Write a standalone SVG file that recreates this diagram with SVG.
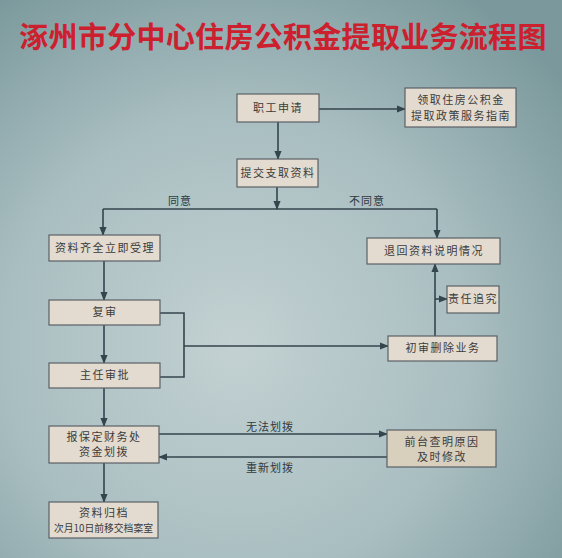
<svg xmlns="http://www.w3.org/2000/svg" width="562" height="558" viewBox="0 0 562 558">
<defs>
<radialGradient id="bg" cx="0.42" cy="0.62" r="0.75">
<stop offset="0" stop-color="#c3d1d2"/>
<stop offset="0.55" stop-color="#a9bec1"/>
<stop offset="1" stop-color="#7b999c"/>
</radialGradient>
<marker id="ah" viewBox="0 0 10 10" refX="9" refY="5" markerWidth="9" markerHeight="9" markerUnits="userSpaceOnUse" orient="auto">
<path d="M0,1 L10,5 L0,9 Z" fill="#34454d"/>
</marker>
<style>
.box{fill:#e3dbcf;stroke:#5a6066;stroke-width:1.2}
.box2{fill:#d9cfbd;stroke:#5a6066;stroke-width:1.2}
.t{font-family:"Noto Sans CJK SC","Noto Sans",sans-serif;font-size:11px;fill:#3c3c3c;text-anchor:middle;letter-spacing:1.5px}
.lbl{font-family:"Noto Sans CJK SC","Noto Sans",sans-serif;font-size:11px;fill:#2e3a40;text-anchor:middle;letter-spacing:1px}
.ln{fill:none;stroke:#34454d;stroke-width:1.6}
.ar{fill:none;stroke:#34454d;stroke-width:1.6;marker-end:url(#ah)}
</style>
</defs>
<rect width="562" height="558" fill="url(#bg)"/>
<text x="283" y="48" font-family="'Noto Sans CJK SC',sans-serif" font-size="29" font-weight="bold" fill="#cc202e" text-anchor="middle" letter-spacing="0.3">涿州市分中心住房公积金提取业务流程图</text>

<g id="connectors">
<line class="ar" x1="319" y1="109" x2="405" y2="109"/>
<line class="ar" x1="278" y1="122" x2="278" y2="159"/>
<line class="ar" x1="277" y1="187" x2="277" y2="209"/>
<polyline class="ln" points="103,209 437,209"/>
<line class="ar" x1="103" y1="209" x2="103" y2="235"/>
<line class="ar" x1="437" y1="209" x2="437" y2="238"/>
<line class="ar" x1="104" y1="261" x2="104" y2="300"/>
<line class="ar" x1="104" y1="325" x2="104" y2="363"/>
<polyline class="ln" points="160,313 184,313 184,377 160,377"/>
<line class="ar" x1="184" y1="346" x2="388" y2="346"/>
<line class="ar" x1="435" y1="336" x2="435" y2="264"/>
<line class="ar" x1="435" y1="299" x2="447" y2="299"/>
<line class="ar" x1="104" y1="388" x2="104" y2="426"/>
<line class="ar" x1="159" y1="434" x2="387" y2="434"/>
<line class="ar" x1="387" y1="457" x2="159" y2="457"/>
<line class="ar" x1="104" y1="463" x2="104" y2="502"/>
<text class="lbl" x="180" y="205">同意</text>
<text class="lbl" x="367" y="205">不同意</text>
<text class="lbl" x="270" y="431">无法划拨</text>
<text class="lbl" x="270" y="472">重新划拨</text>
</g>

<g id="n1"><rect class="box" x="237" y="94" width="82" height="28"/><text class="t" x="278" y="112">职工申请</text></g>
<g id="n2"><rect class="box" x="405" y="88" width="111" height="39"/><text class="t" x="461" y="104">领取住房公积金</text><text class="t" x="461" y="120">提取政策服务指南</text></g>
<g id="n3"><rect class="box" x="237" y="159" width="81" height="28"/><text class="t" x="278" y="177">提交支取资料</text></g>
<g id="n4"><rect class="box" x="49" y="235" width="111" height="26"/><text class="t" x="105" y="252">资料齐全立即受理</text></g>
<g id="n5"><rect class="box" x="367" y="238" width="133" height="26"/><text class="t" x="434" y="255">退回资料说明情况</text></g>
<g id="n6"><rect class="box" x="49" y="300" width="111" height="25"/><text class="t" x="105" y="316">复审</text></g>
<g id="n7"><rect class="box" x="447" y="286" width="52" height="27"/><text class="t" x="473" y="303">责任追究</text></g>
<g id="n8"><rect class="box" x="388" y="336" width="109" height="25"/><text class="t" x="443" y="352">初审删除业务</text></g>
<g id="n9"><rect class="box" x="49" y="363" width="111" height="25"/><text class="t" x="105" y="379">主任审批</text></g>
<g id="n10"><rect class="box" x="49" y="426" width="110" height="37"/><text class="t" x="104" y="441">报保定财务处</text><text class="t" x="104" y="456">资金划拨</text></g>
<g id="n11"><rect class="box2" x="387" y="430" width="109" height="37"/><text class="t" x="442" y="446">前台查明原因</text><text class="t" x="442" y="461">及时修改</text></g>
<g id="n12"><rect class="box" x="49" y="502" width="109" height="36"/><text class="t" x="104" y="517">资料归档</text><text x="103.5" y="532" font-family="'Noto Sans CJK SC',sans-serif" font-size="10" fill="#3c3c3c" text-anchor="middle" textLength="99" lengthAdjust="spacingAndGlyphs">次月10日前移交档案室</text></g>
</svg>
